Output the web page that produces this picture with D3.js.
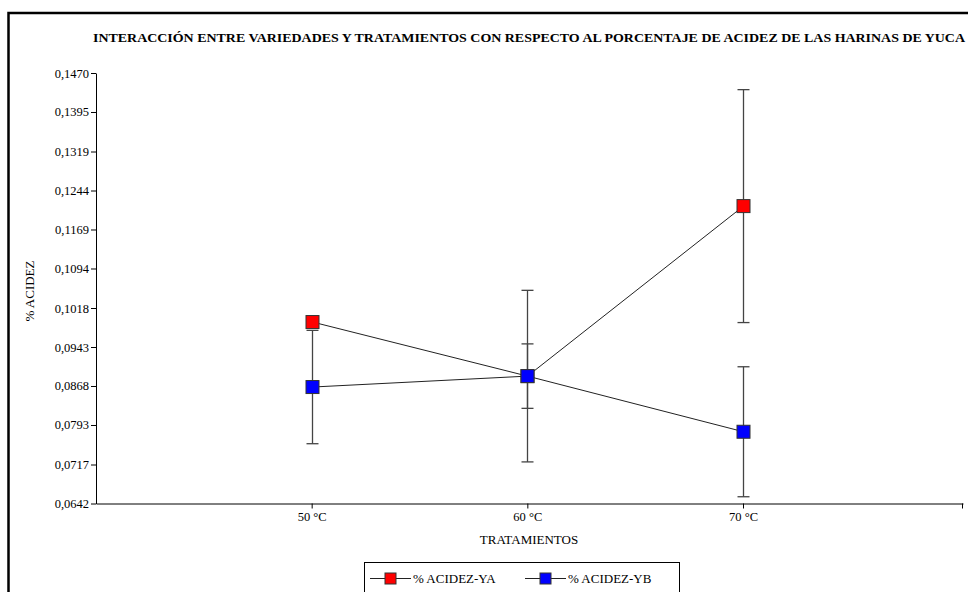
<!DOCTYPE html>
<html>
<head>
<meta charset="utf-8">
<script src="https://cdn.jsdelivr.net/npm/d3@7"></script>
<style>
  html, body { margin: 0; padding: 0; background: #fff; }
  svg { display: block; }
</style>
</head>
<body>
<svg id="chart" width="968" height="592" font-family="'Liberation Serif', 'DejaVu Serif', serif"></svg>
<script>
// Treatments (drying temperature) and mean acidity for each cassava variety
const categories = ["50 °C", "60 °C", "70 °C"];
const seriesNames = ["% ACIDEZ-YA", "% ACIDEZ-YB"];
const seriesColors = ["#ff0000", "#0000ff"];
const acidezYA = [0.0991, 0.0887, 0.1214];
const acidezYB = [0.0866, 0.0887, 0.0780];
const errorYA = [0.0010, 0.0165, 0.0224];
const errorYB = [0.0109, 0.0062, 0.0125];
const yTicks = [0.0642, 0.0717, 0.0793, 0.0868, 0.0943, 0.1018, 0.1094, 0.1169, 0.1244, 0.1319, 0.1395, 0.1470];

const title = "INTERACCIÓN ENTRE VARIEDADES Y TRATAMIENTOS CON RESPECTO AL PORCENTAJE DE ACIDEZ DE LAS HARINAS DE YUCA";

const FONT = "'Liberation Serif', 'DejaVu Serif', serif";

const series = [
  { name: seriesNames[0], color: seriesColors[0], values: acidezYA, errors: errorYA },
  { name: seriesNames[1], color: seriesColors[1], values: acidezYB, errors: errorYB }
];

const svg = d3.select("#chart");

// Outer frame (top and left edges visible)
svg.append("path")
  .attr("d", "M8.5,1000 V13 H1000")
  .attr("fill", "none")
  .attr("stroke", "#000")
  .attr("stroke-width", 2.5);

// Title
svg.append("text")
  .attr("x", 529)
  .attr("y", 42)
  .attr("text-anchor", "middle")
  .attr("font-family", FONT)
  .attr("font-weight", "bold")
  .attr("font-size", 13.5)
  .attr("textLength", 872)
  .attr("lengthAdjust", "spacingAndGlyphs")
  .text(title);

// Scales
const x = d3.scaleLinear().domain([0, 4.02]).range([96, 963]);
const y = d3.scaleLinear().domain([0.0642, 0.1470]).range([503.5, 73]);

// Y axis
const yAxis = d3.axisLeft(y)
  .tickValues(yTicks)
  .tickFormat(d => d3.format(".4f")(d).replace(".", ","))
  .tickSize(5)
  .tickSizeOuter(0)
  .tickPadding(2);
const gy = svg.append("g").attr("transform", "translate(96,0)").call(yAxis)
  .attr("font-family", FONT).attr("font-size", 12.5);
gy.select(".domain").attr("stroke", "#000");

// X axis
const xAxis = d3.axisBottom(x)
  .tickValues([1, 2, 3])
  .tickFormat((d, i) => categories[i])
  .tickSize(5)
  .tickSizeOuter(0)
  .tickPadding(4);
const gx = svg.append("g").attr("transform", "translate(0,503.5)").call(xAxis)
  .attr("font-family", FONT).attr("font-size", 12.5);
// closing tick at the right end of the category axis
gx.append("line")
  .attr("x1", x(4.02) - 0.5).attr("x2", x(4.02) - 0.5)
  .attr("y1", 0).attr("y2", 5)
  .attr("stroke", "#000");

// Axis titles
svg.append("text")
  .attr("transform", "translate(34,291) rotate(-90)")
  .attr("text-anchor", "middle")
  .attr("font-family", FONT)
  .attr("font-size", 13)
  .text("% ACIDEZ");
svg.append("text")
  .attr("x", 529)
  .attr("y", 544)
  .attr("text-anchor", "middle")
  .attr("font-family", FONT)
  .attr("font-size", 13)
  .text("TRATAMIENTOS");

const plot = svg.append("g");

// Error bars
series.forEach(s => {
  const g = plot.append("g");
  s.values.forEach((v, i) => {
    const cx = Math.round(x(i + 1)) + 0.5;
    const y1 = y(v + s.errors[i]);
    const y2 = y(v - s.errors[i]);
    g.append("line").attr("x1", cx).attr("x2", cx).attr("y1", y1).attr("y2", y2)
      .attr("stroke", "#444").attr("stroke-width", 1.3);
    [y1, y2].forEach(yy => {
      g.append("line").attr("x1", cx - 6).attr("x2", cx + 6).attr("y1", yy).attr("y2", yy)
        .attr("stroke", "#444").attr("stroke-width", 1.3);
    });
  });
});

// Lines
const line = d3.line().x((d, i) => Math.round(x(i + 1)) + 0.5).y(d => y(d));
series.forEach(s => {
  plot.append("path")
    .datum(s.values)
    .attr("d", line)
    .attr("fill", "none")
    .attr("stroke", "#222")
    .attr("stroke-width", 1);
});

// Markers
const ms = 13;
series.forEach(s => {
  plot.append("g").selectAll("rect")
    .data(s.values)
    .join("rect")
    .attr("x", (d, i) => Math.round(x(i + 1)) + 0.5 - ms / 2)
    .attr("y", d => y(d) - ms / 2)
    .attr("width", ms)
    .attr("height", ms)
    .attr("fill", s.color)
    .attr("stroke", "#333")
    .attr("stroke-width", 1);
});

// Legend
const legend = svg.append("g");
legend.append("rect")
  .attr("x", 364.5).attr("y", 562.5)
  .attr("width", 315).attr("height", 60)
  .attr("fill", "#fff").attr("stroke", "#000").attr("stroke-width", 1);
const legendX = [370, 525];
series.forEach((s, k) => {
  const lx = legendX[k];
  const ly = 578;
  legend.append("line").attr("x1", lx).attr("x2", lx + 41).attr("y1", ly + 0.5).attr("y2", ly + 0.5)
    .attr("stroke", "#222").attr("stroke-width", 1);
  legend.append("rect")
    .attr("x", lx + 20.5 - 5.5).attr("y", ly + 0.5 - 5.5)
    .attr("width", 11).attr("height", 11)
    .attr("fill", s.color).attr("stroke", "#333").attr("stroke-width", 1);
  legend.append("text")
    .attr("x", lx + 43).attr("y", ly + 4.5)
    .attr("font-family", FONT)
    .attr("font-size", 13)
    .text(s.name);
});
</script>
</body>
</html>
